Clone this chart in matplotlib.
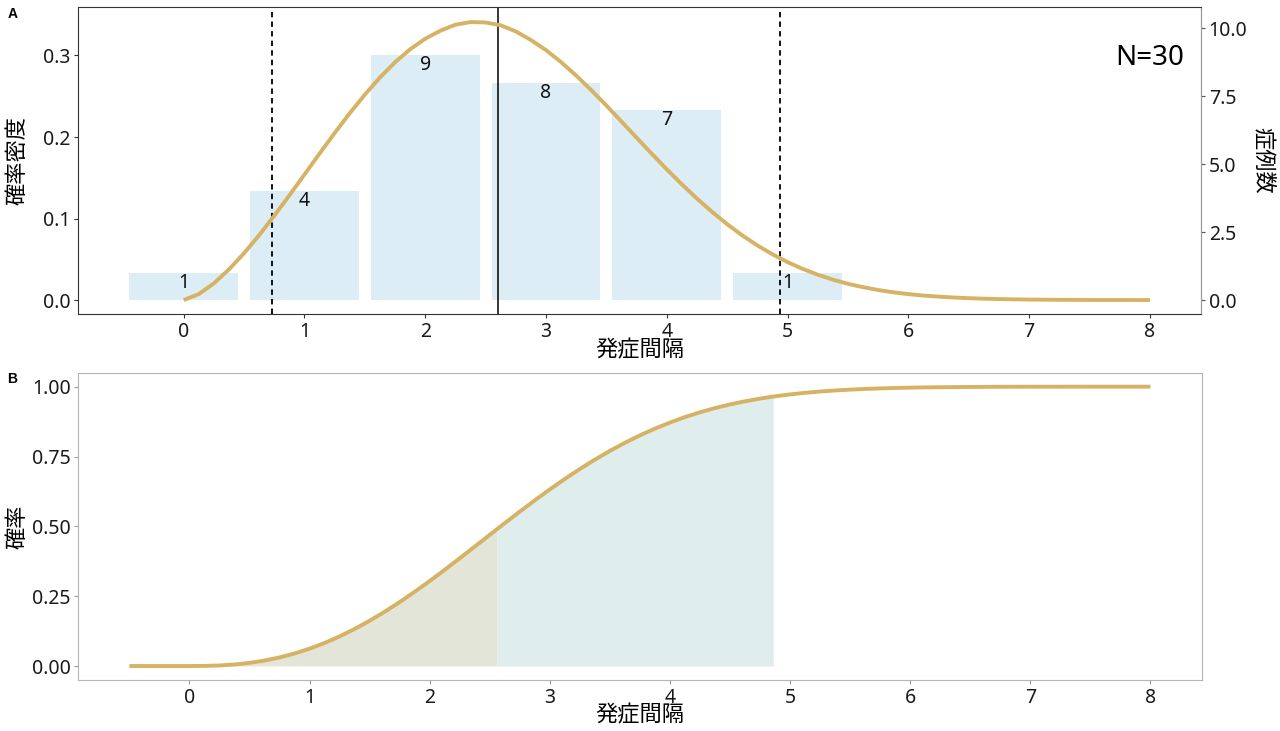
import matplotlib
matplotlib.use('Agg')
import matplotlib.pyplot as plt
import numpy as np

plt.rcParams['font.family'] = ['Noto Sans', 'Noto Sans CJK JP', 'DejaVu Sans']

# panel A: histogram of onset intervals
interval = [0, 1, 2, 3, 4, 5]
cases = [1, 4, 9, 8, 7, 1]
n_total = 30

# fitted density
dens_x = list(np.arange(0, 6.8, 0.125)) + [7, 7.25, 7.5, 7.75, 8]
dens_y = [0, 0.0073, 0.0205, 0.0376, 0.0575, 0.0796, 0.1035, 0.1284, 0.1540,
          0.1797, 0.2049, 0.2292, 0.2520, 0.2730, 0.2917, 0.3076, 0.3206,
          0.3304, 0.3378, 0.3410, 0.3405, 0.3370, 0.3295, 0.3189, 0.3065,
          0.2918, 0.2753, 0.2574, 0.2385, 0.2189, 0.1991, 0.1795, 0.1603,
          0.1419, 0.1244, 0.1081, 0.0930, 0.0793, 0.0670, 0.0561, 0.0465,
          0.0382, 0.0311, 0.0250, 0.0199, 0.0158, 0.0123, 0.0095, 0.0073,
          0.0055, 0.0042, 0.0031, 0.0023, 0.0017, 0.0012,
          0.0006, 0.0003, 0.0001, 0.0001, 0.0]

lower_q = 0.735
mean_val = 2.60
upper_q = 4.94

# panel B: cumulative probability
cdf_x = [-0.5, -0.25, 0, 0.125, 0.25, 0.375, 0.5, 0.625, 0.75, 0.875, 1, 1.125, 1.25, 1.375,
         1.5, 1.625, 1.75, 1.875, 2, 2.125, 2.25, 2.375, 2.5, 2.56, 2.625, 2.75, 2.875, 3,
         3.125, 3.25, 3.375, 3.5, 3.625, 3.75, 3.875, 4, 4.125, 4.25, 4.375, 4.5, 4.625, 4.75,
         4.86, 5, 5.125, 5.25, 5.375, 5.5, 5.625, 5.75, 5.875, 6, 6.125, 6.25, 6.5, 6.75,
         7, 7.25, 7.5, 7.75, 8]
cdf_y = [0, 0, 0, 0.0004, 0.0020, 0.0055, 0.0113, 0.0196, 0.0308, 0.0449, 0.0621, 0.0825,
         0.1060, 0.1326, 0.1620, 0.1942, 0.2289, 0.2657, 0.3043, 0.3444, 0.3857, 0.4275,
         0.4695, 0.4897, 0.5114, 0.5527, 0.5931, 0.6321, 0.6696, 0.7052, 0.7388, 0.7701,
         0.7991, 0.8257, 0.8498, 0.8716, 0.8911, 0.9083, 0.9233, 0.9364, 0.9477, 0.9573,
         0.9646, 0.9723, 0.9780, 0.9826, 0.9864, 0.9894, 0.9919, 0.9938, 0.9953, 0.9965,
         0.9974, 0.9981, 0.9990, 0.9995, 0.9998, 0.9999, 1.0, 1.0, 1.0]
fill_cuts = [-0.5, 2.56, 4.86]

curve_col = '#D6B264'
bar_col = '#DDEDF5'

fig = plt.figure(figsize=(12.8, 7.31), dpi=100)
W, H = 1280, 731
axA = fig.add_axes([78.3 / W, 1 - 314 / H, (1201 - 78.3) / W, (314 - 7.3) / H])
axB = fig.add_axes([78.3 / W, 1 - 680 / H, (1201.5 - 78.3) / W, (680 - 372.7) / H])

# ---- panel A
dens = np.array(cases) / n_total
axA.bar(interval, dens, width=0.9, color=bar_col, zorder=1)
for xi, d, c in zip(interval, dens, cases):
    axA.text(xi, d, str(c), ha='center', va='top', fontsize=14, color='#111111', zorder=4)
axA.plot(dens_x, dens_y, color=curve_col, lw=2.8, zorder=3, solid_capstyle='butt')
axA.axvline(lower_q, color='black', lw=1.3, ls=(0, (3, 2.3)), zorder=2)
axA.axvline(upper_q, color='black', lw=1.3, ls=(0, (3, 2.3)), zorder=2)
axA.axvline(mean_val, color='black', lw=1.1, zorder=2)
axA.text(8, 0.2975, 'N=30', ha='center', va='center', fontsize=20, color='black')

axA.set_xlim(-0.8725, 8.4225)
axA.set_ylim(-0.0171, 0.3591)
axA.set_xticks(range(0, 9))
axA.set_yticks([0, 0.1, 0.2, 0.3])
axA.set_yticklabels(['0.0', '0.1', '0.2', '0.3'])
for s in ['left', 'top', 'bottom']:
    axA.spines[s].set_color('#333333')
axA.spines['right'].set_color('#999999')
axA.tick_params(length=3, width=0.8, color='#333333', labelsize=14, pad=2.5, labelcolor='#1a1a1a')
axA.set_ylabel('確率密度', fontsize=16, va='center')
axA.yaxis.set_label_coords(-0.0537, 0.5)
axA.set_xlabel('発症間隔', fontsize=16, va='center')
axA.xaxis.set_label_coords(0.5, -37 / 306.7)

sec = axA.secondary_yaxis('right', functions=(lambda d: d * n_total, lambda c: c / n_total))
sec.set_yticks([0, 2.5, 5, 7.5, 10])
sec.set_yticklabels(['0.0', '2.5', '5.0', '7.5', '10.0'])
sec.spines['right'].set_color('#999999')
sec.tick_params(length=3, width=0.8, color='#555555', labelsize=14, pad=2.5, labelcolor='#1a1a1a')
fig.text(1263 / W, 1 - 160 / H, '症例数', fontsize=16, rotation=-90, ha='center', va='center')

# ---- panel B
cx = np.array(cdf_x)
cy = np.array(cdf_y)
m1 = (cx >= fill_cuts[0]) & (cx <= fill_cuts[1])
m2 = (cx >= fill_cuts[1]) & (cx <= fill_cuts[2])
axB.fill_between(cx[m1], 0, cy[m1], color='#E3E5D8', lw=0, zorder=1)
axB.fill_between(cx[m2], 0, cy[m2], color='#DFEEEC', lw=0, zorder=1)
axB.plot(cx, cy, color=curve_col, lw=2.8, zorder=3, solid_capstyle='butt')

axB.set_xlim(-0.925, 8.425)
axB.set_ylim(-0.05, 1.05)
axB.set_xticks(range(0, 9))
axB.set_yticks([0, 0.25, 0.5, 0.75, 1.0])
axB.set_yticklabels(['0.00', '0.25', '0.50', '0.75', '1.00'])
for s in axB.spines.values():
    s.set_color('#B5B5B5')
axB.tick_params(length=3, width=0.8, color='#999999', labelsize=14, pad=2.5, labelcolor='#1a1a1a')
axB.set_ylabel('確率', fontsize=16, va='center')
axB.yaxis.set_label_coords(-0.0537, 0.5)
axB.set_xlabel('発症間隔', fontsize=16, va='center')
axB.xaxis.set_label_coords(0.5, -36 / 307.3)

fig.text(13 / W, 1 - 14 / H, 'A', fontsize=10, fontweight='bold', family='Liberation Sans',
         ha='center', va='center')
fig.text(12.5 / W, 1 - 379 / H, 'B', fontsize=10, fontweight='bold', family='Liberation Sans',
         ha='center', va='center')

fig.savefig('out.png', dpi=100)
